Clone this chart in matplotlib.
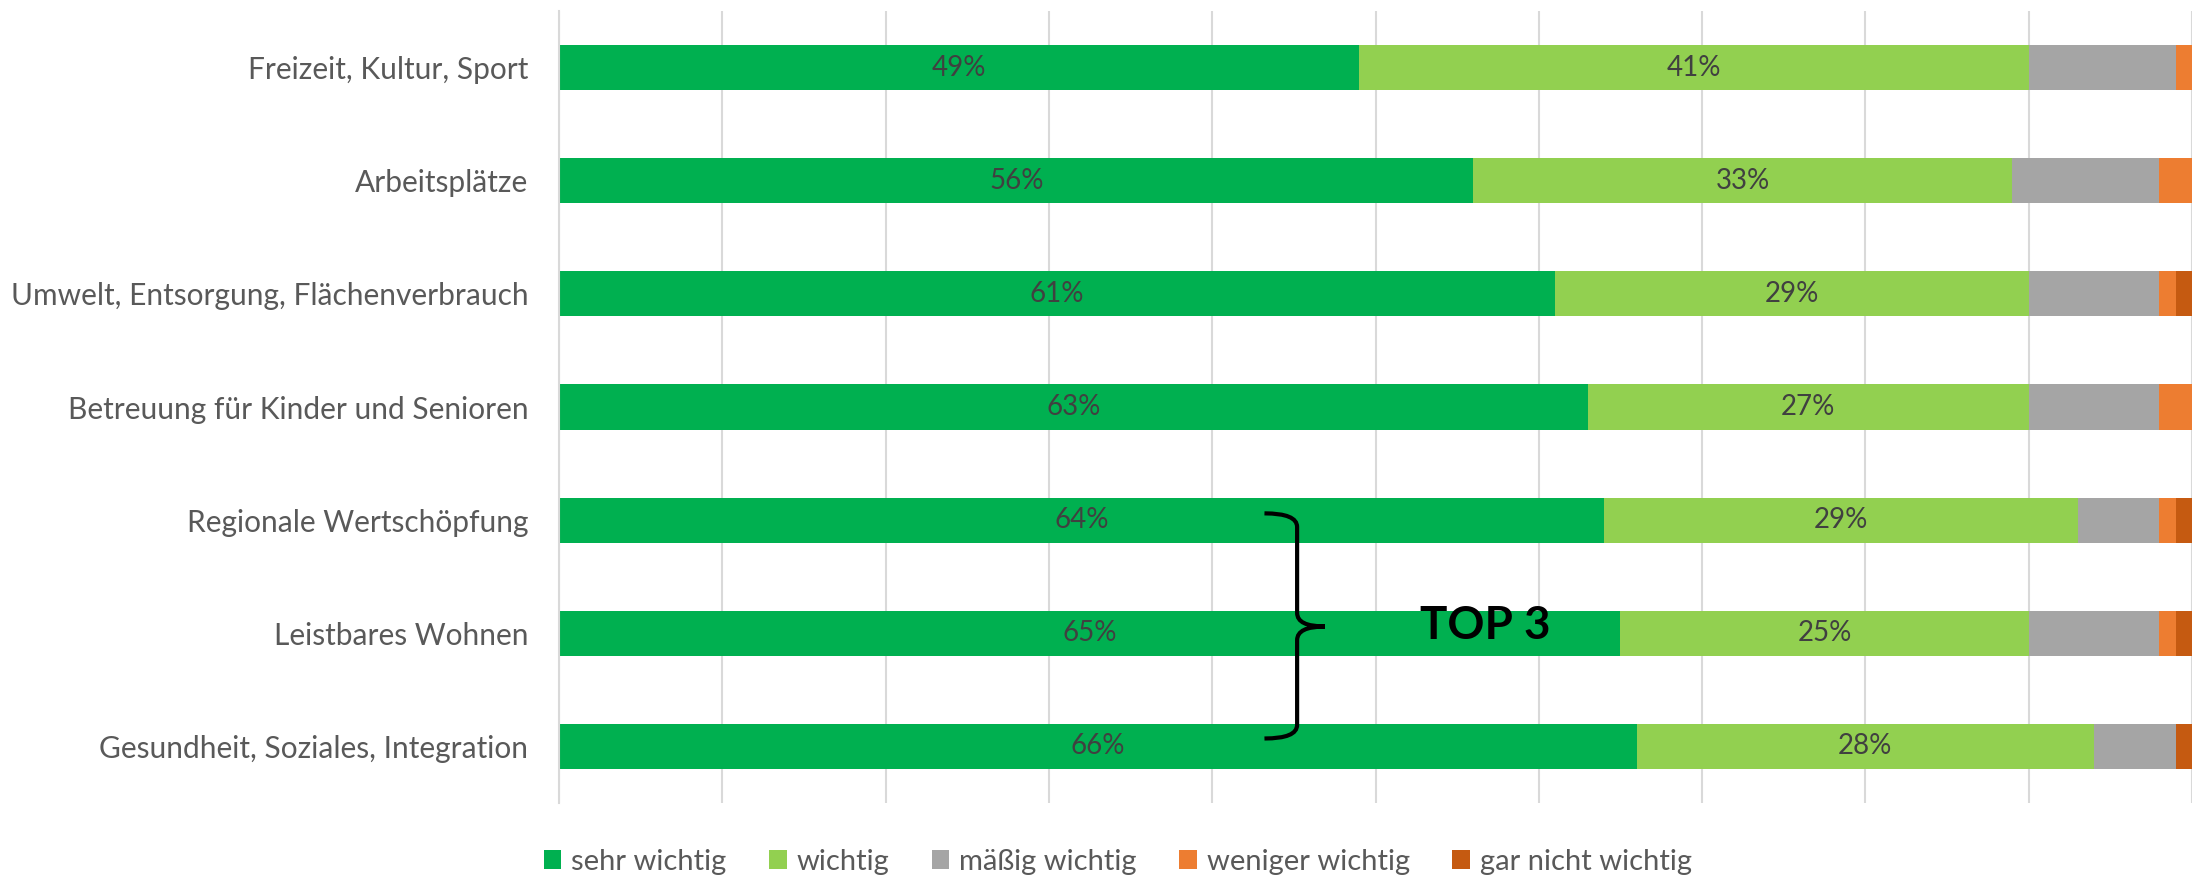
import matplotlib

matplotlib.use("Agg")
import matplotlib.pyplot as plt
from matplotlib.patches import PathPatch, Patch
from matplotlib.path import Path

plt.rcParams["font.family"] = ["Lato", "DejaVu Sans"]

# bottom row first (Excel order)
categories = [
    "Gesundheit, Soziales, Integration",
    "Leistbares Wohnen",
    "Regionale Wertschöpfung",
    "Betreuung für Kinder und Senioren",
    "Umwelt, Entsorgung, Flächenverbrauch",
    "Arbeitsplätze",
    "Freizeit, Kultur, Sport",
]
series_names = ["sehr wichtig", "wichtig", "mäßig wichtig", "weniger wichtig", "gar nicht wichtig"]
sehr_wichtig = [66, 65, 64, 63, 61, 56, 49]
wichtig = [28, 25, 29, 27, 29, 33, 41]
maessig_wichtig = [5, 8, 5, 8, 8, 9, 9]
weniger_wichtig = [0, 1, 1, 2, 1, 2, 1]
gar_nicht_wichtig = [1, 1, 1, 0, 1, 0, 0]
labelled = [True, True, False, False, False]

colors = ["#00B050", "#92D050", "#A5A5A5", "#ED7D31", "#C55A11"]
text_grey = "#595959"
grid_grey = "#D9D9D9"

W, H, DPI = 2192, 877, 100
fig = plt.figure(figsize=(W / DPI, H / DPI), dpi=DPI)
ax = fig.add_axes([559 / W, 1 - 803 / H, 1 - 559 / W, (803 - 11) / H])

ypos = list(range(len(categories)))
left = [0.0] * len(categories)
all_series = [sehr_wichtig, wichtig, maessig_wichtig, weniger_wichtig, gar_nicht_wichtig]
for name, vals, col, lab in zip(series_names, all_series, colors, labelled):
    widths = [v / 100 for v in vals]
    bars = ax.barh(ypos, widths, left=left, height=0.4, color=col, label=name, zorder=2)
    if lab:
        ax.bar_label(bars, labels=[f"{v}%" for v in vals], label_type="center",
                     color="#404040", fontsize=20)
    left = [l + w for l, w in zip(left, widths)]

ax.set_xlim(0, 1)
ax.set_ylim(-0.5, len(categories) - 0.5)
ax.set_xticks([i / 10 for i in range(11)])
ax.xaxis.grid(True, color=grid_grey, linewidth=1.5, zorder=0)
ax.set_axisbelow(True)
ax.tick_params(axis="x", length=0, labelbottom=False)
ax.tick_params(axis="y", length=0, pad=22, labelsize=21.5, labelcolor=text_grey)
ax.set_yticks(ypos)
ax.set_yticklabels(categories)
for side in ["top", "right", "bottom"]:
    ax.spines[side].set_visible(False)
ax.spines["left"].set_color(grid_grey)
ax.spines["left"].set_linewidth(1.5)

# curly brace around the top 3
x0, xv, xt = 0.432, 0.452, 0.469
y_bot, y_mid, y_top = 0.07, 1.06, 2.06
verts = [
    (x0, y_top), (xv, y_top), (xv, y_top - 0.12),
    (xv, y_mid + 0.12), (xv, y_mid), (xt, y_mid),
    (xv, y_mid), (xv, y_mid - 0.12),
    (xv, y_bot + 0.12), (xv, y_bot), (x0, y_bot),
]
codes = [
    Path.MOVETO, Path.CURVE3, Path.CURVE3,
    Path.LINETO, Path.CURVE3, Path.CURVE3,
    Path.CURVE3, Path.CURVE3,
    Path.LINETO, Path.CURVE3, Path.CURVE3,
]
ax.add_patch(PathPatch(Path(verts, codes), fill=False, edgecolor="black",
                       linewidth=3, zorder=5, capstyle="butt"))
ax.text(0.567, y_mid, "TOP 3", fontsize=33, fontweight="bold", color="black",
        ha="center", va="center", zorder=5)

handles = [Patch(facecolor=c, edgecolor="none") for c in colors]
fig.legend(handles, series_names, loc="center", bbox_to_anchor=(0.51, 1 - 862 / H),
           ncol=5, frameon=False, fontsize=21, labelcolor=text_grey,
           handlelength=0.6, handleheight=0.6, handletextpad=0.35, columnspacing=1.45)

fig.savefig("out.png", dpi=DPI)
